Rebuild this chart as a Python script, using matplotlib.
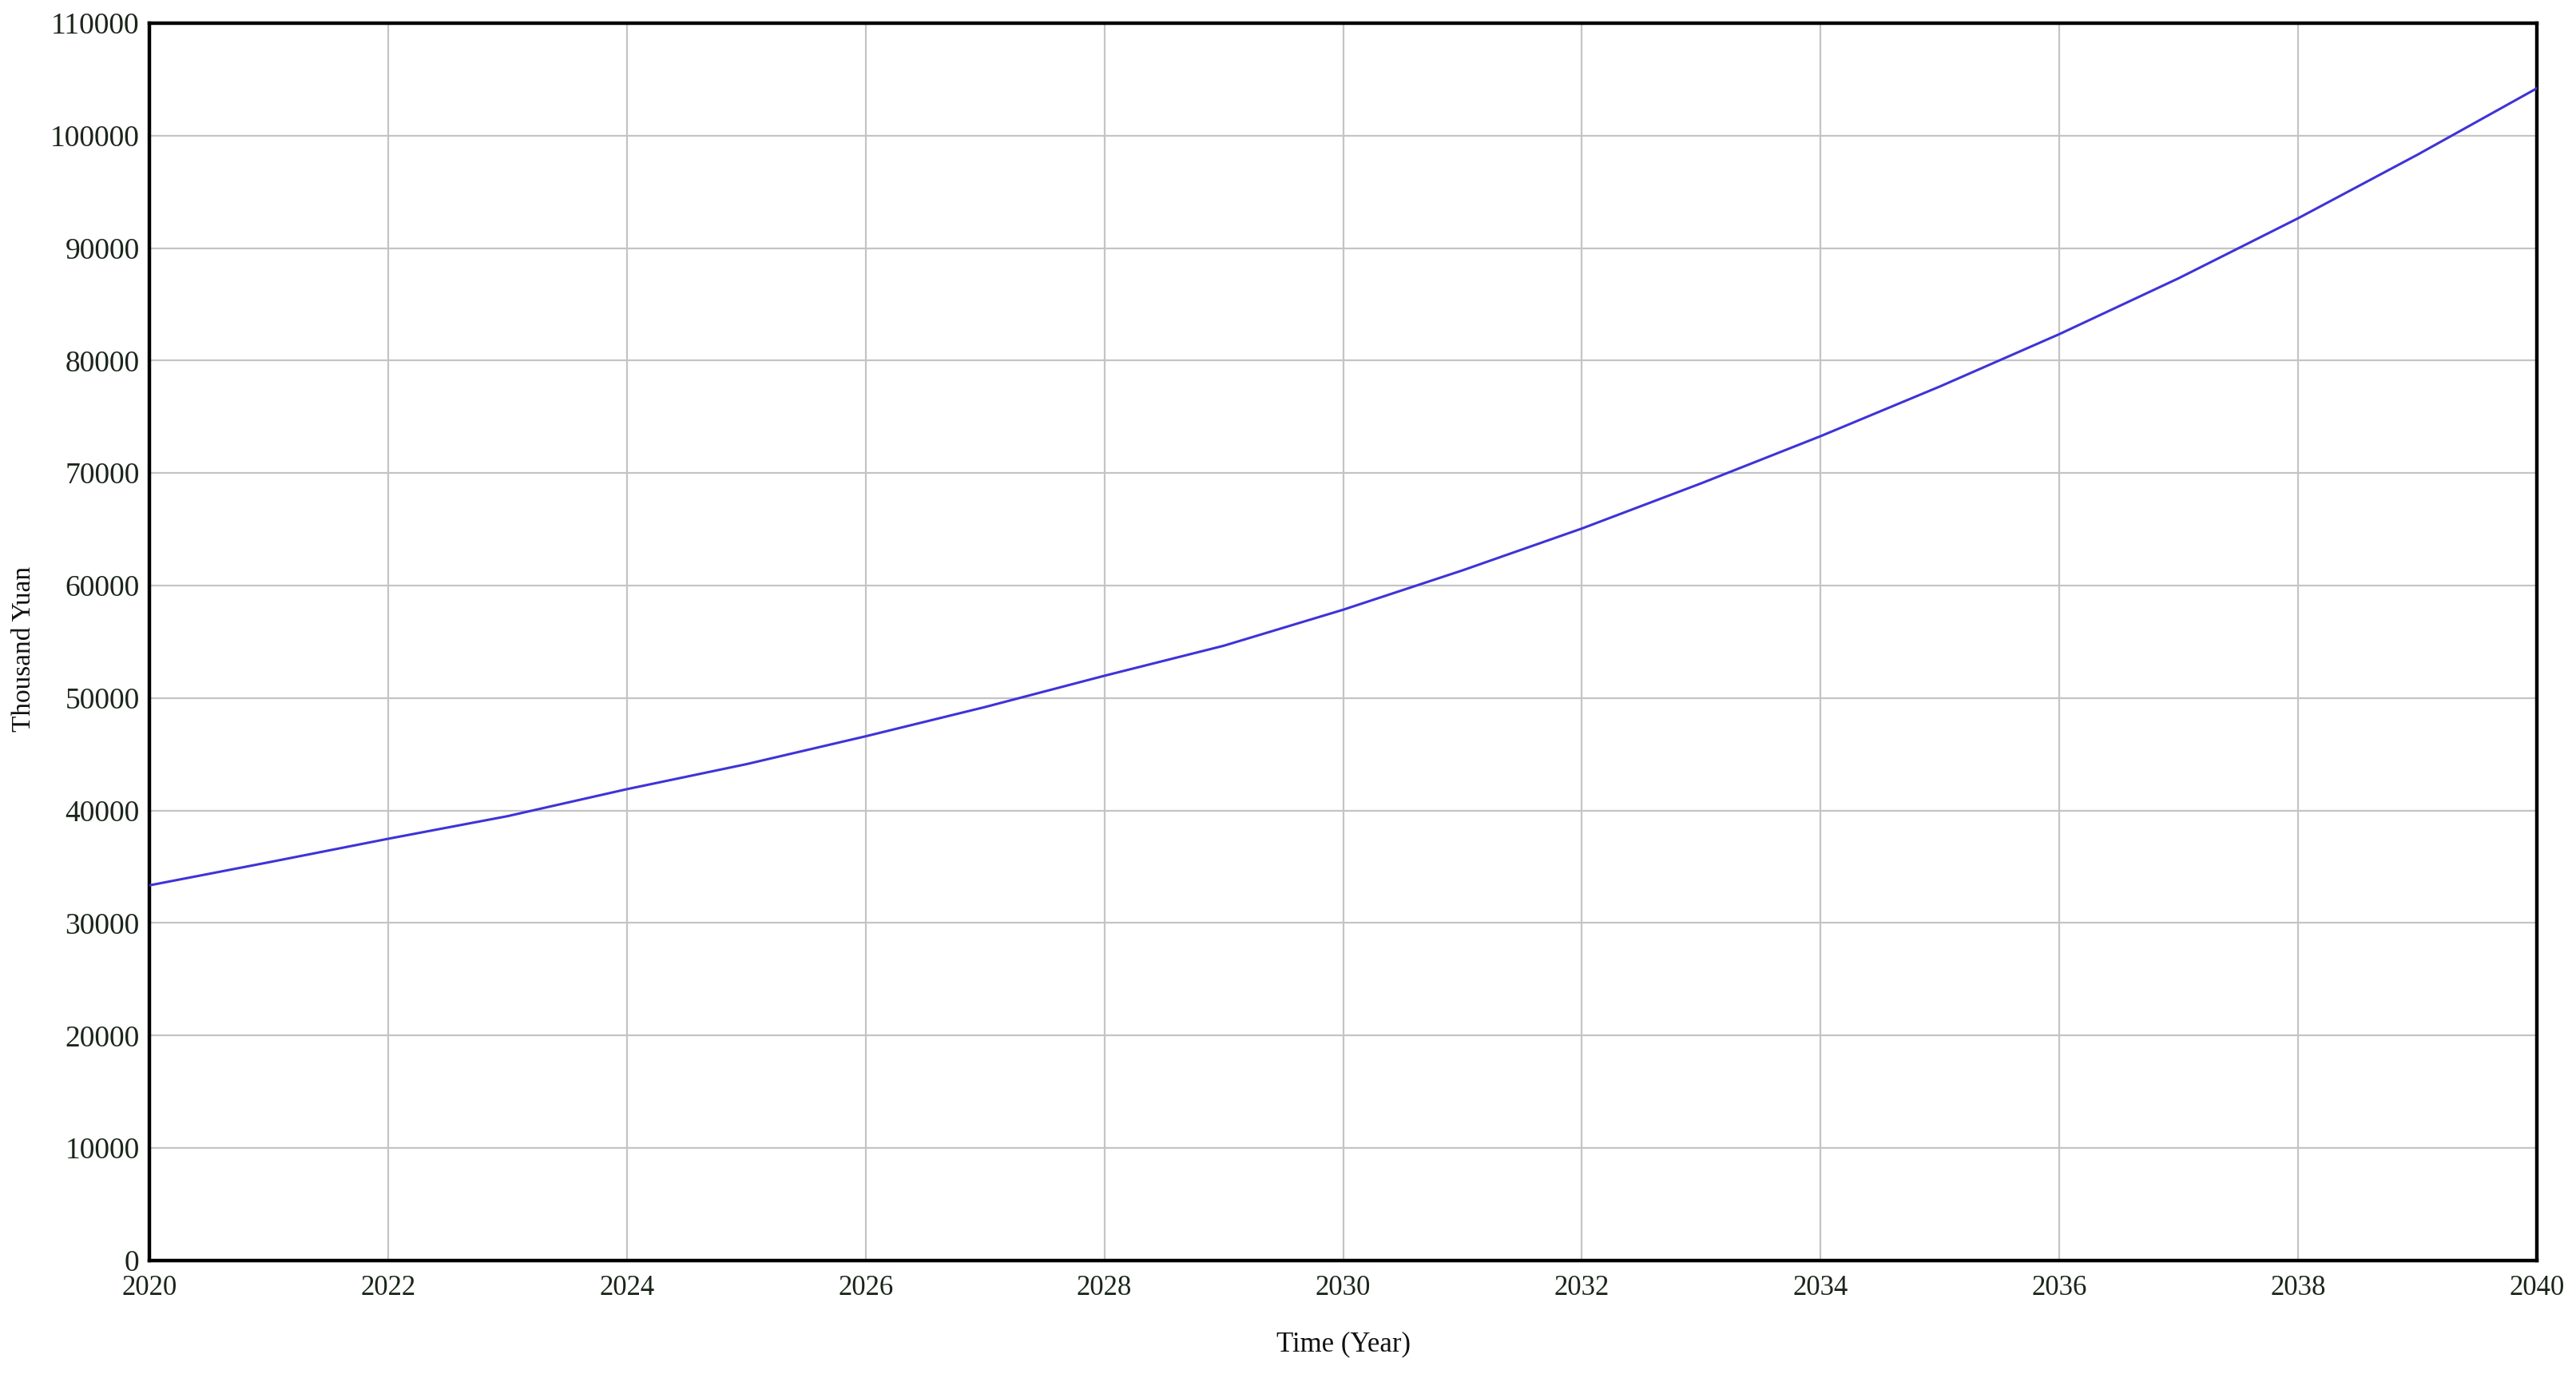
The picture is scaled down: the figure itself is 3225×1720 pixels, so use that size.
import numpy as np
import matplotlib
matplotlib.use('Agg')
from matplotlib import pyplot as plt

# Values (Thousand Yuan per year)
years = [2020, 2021, 2022, 2023, 2024, 2025, 2026, 2027, 2028, 2029, 2030,
         2031, 2032, 2033, 2034, 2035, 2036, 2037, 2038, 2039, 2040]
values = [33350, 35400, 37490, 39500, 41900, 44120, 46600, 49200, 51980, 54650, 57850,
          61350, 65070, 69090, 73280, 77700, 82350, 87320, 92650, 98300, 104200]

xticks = list(range(2020, 2041, 2))
yticks = list(range(0, 110001, 10000))

plt.rcParams['font.family'] = ['Liberation Serif', 'DejaVu Serif']

fig = plt.figure(figsize=(32.25, 17.2), dpi=100)
ax = fig.add_axes([0.058, 0.0826, 0.9268, 0.9006])

ax.plot(years, values, color='#3f33d8', linewidth=2.2, zorder=3)

ax.set_xlim(2020, 2040)
ax.set_ylim(0, 110000)
ax.set_xticks(xticks)
ax.set_yticks(yticks)
ax.tick_params(axis='both', length=0, labelcolor='#1a261a')
ax.tick_params(axis='y', pad=9, labelsize=27)
ax.tick_params(axis='x', pad=13, labelsize=25)

ax.grid(True, color='#c4c4c4', linewidth=1.6)
ax.set_axisbelow(True)
for s in ax.spines.values():
    s.set_linewidth(3.2)
    s.set_color('black')

ax.set_xlabel('Time (Year)', fontsize=25, color='#111111')
ax.set_ylabel('Thousand Yuan', fontsize=24, color='#111111')
ax.xaxis.set_label_coords(0.5, -0.057)
ax.yaxis.set_label_coords(-0.0475, 0.494)

fig.savefig('out.png', dpi=100)
